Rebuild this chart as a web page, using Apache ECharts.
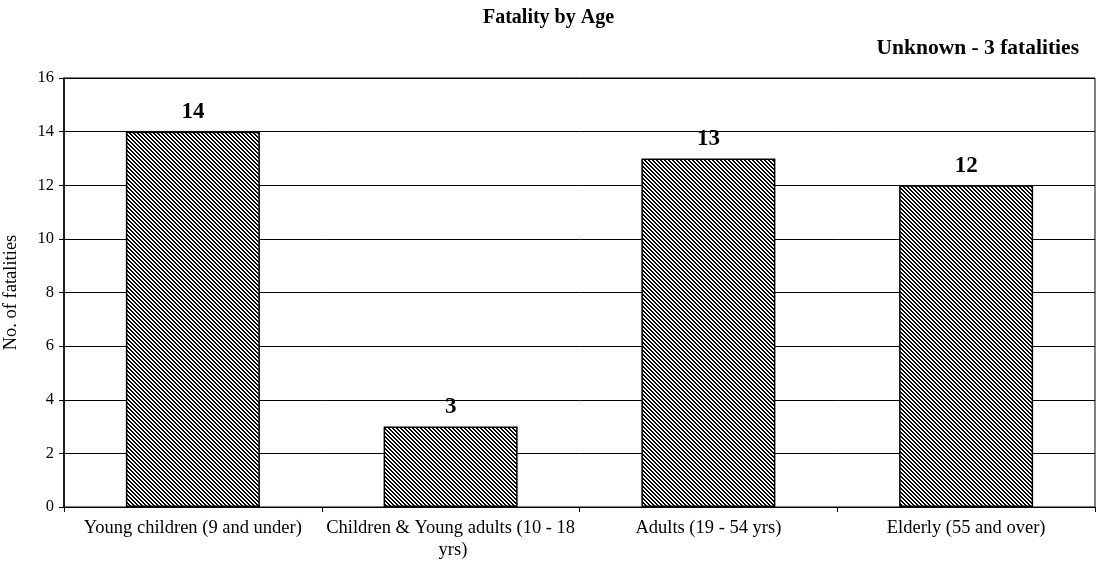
<!DOCTYPE html>
<html>
<head>
<meta charset="utf-8">
<script src="https://cdn.jsdelivr.net/npm/echarts@6/dist/echarts.min.js"></script>
<style>
html,body{margin:0;padding:0;background:#fff;}
#c{width:1097px;height:570px;}
</style>
</head>
<body>
<div id="c"></div>
<script>
var categories = ['Young children (9 and under)', 'Children & Young adults (10 - 18 yrs)', 'Adults (19 - 54 yrs)', 'Elderly (55 and over)'];
var fatalities = [14, 3, 13, 12];
var yTicks = { min: 0, max: 16, interval: 2 };

function hatch() {
  var n = 4;
  var c = document.createElement('canvas');
  c.width = n; c.height = n;
  var g = c.getContext('2d');
  g.fillStyle = '#fff';
  g.fillRect(0, 0, n, n);
  g.fillStyle = '#000';
  for (var y = 0; y < n; y++) {
    for (var x = 0; x < n; x++) {
      var d = ((x - y) % n + n) % n;
      if (d < 2) g.fillRect(x, y, 1, 1);
    }
  }
  return c;
}

var serif = '"Liberation Serif", "Times New Roman", serif';
var chart = echarts.init(document.getElementById('c'));
chart.setOption({
  backgroundColor: '#fff',
  animation: false,
  title: [
    { text: 'Fatality by Age', left: 'center', top: 3,
      textStyle: { fontFamily: serif, fontSize: 20, fontWeight: 'bold', color: '#000' } },
    { text: 'Unknown - 3 fatalities', right: 13, top: 32,
      textStyle: { fontFamily: serif, fontSize: 21.5, fontWeight: 'bold', color: '#000' } }
  ],
  grid: { left: 64, right: 2, top: 78, bottom: 63, outerBoundsMode: 'none', containLabel: false, show: true, borderColor: '#000', borderWidth: 1, backgroundColor: 'transparent' },
  xAxis: {
    type: 'category',
    data: categories,
    axisLine: { lineStyle: { color: '#000', width: 1 } },
    axisTick: { show: true, length: 5, lineStyle: { color: '#000' } },
    axisLabel: { interval: 0, fontFamily: serif, fontSize: 18.5, color: '#000', margin: 10, width: 252, overflow: 'break', lineHeight: 22 }
  },
  yAxis: {
    type: 'value',
    min: yTicks.min, max: yTicks.max, interval: yTicks.interval,
    name: 'No. of fatalities',
    nameLocation: 'middle',
    nameGap: 43,
    nameTextStyle: { fontFamily: serif, fontSize: 18.5, color: '#000' },
    axisLine: { show: true, lineStyle: { color: '#000', width: 1.5 } },
    axisTick: { show: true, length: 5, lineStyle: { color: '#000' } },
    axisLabel: { fontFamily: serif, fontSize: 16.5, color: '#000', margin: 10 },
    splitLine: { show: true, lineStyle: { color: '#000', width: 1 } }
  },
  series: [{
    type: 'bar',
    data: fatalities,
    barWidth: '52%',
    itemStyle: { color: { image: hatch(), repeat: 'repeat' }, borderColor: '#000', borderWidth: 1.5 },
    label: { show: true, position: 'top', distance: 8, fontFamily: serif, fontSize: 23, fontWeight: 'bold', color: '#000' }
  }]
});
</script>
</body>
</html>
